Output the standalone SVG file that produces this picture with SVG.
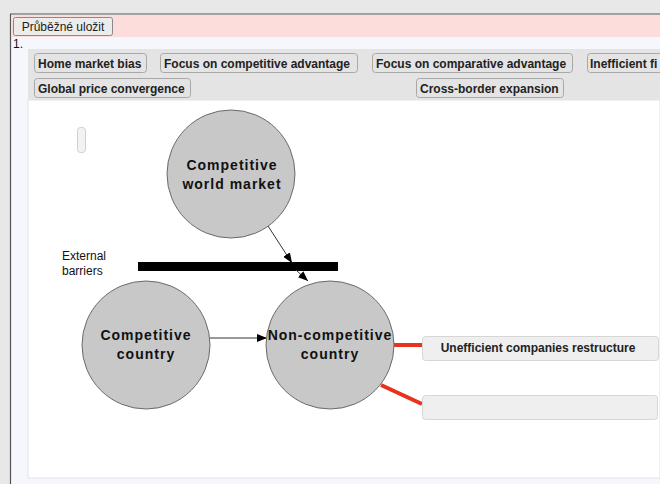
<svg xmlns="http://www.w3.org/2000/svg" width="660" height="484" viewBox="0 0 660 484">
<style>
.btn{fill:#e4e4e4;stroke:#a8a8a8;stroke-width:1}
.btxt{font-family:"Liberation Sans",Arial,sans-serif;font-size:12px;font-weight:bold;fill:#222}
.node{fill:#c8c8c8;stroke:#6a6a6a;stroke-width:1}
.ntxt{font-family:"Liberation Sans",Arial,sans-serif;font-size:14px;font-weight:bold;fill:#111;letter-spacing:1px;text-anchor:middle}
.lbl{font-family:"Liberation Sans",Arial,sans-serif;font-size:12px;fill:#111}
.drop{fill:#efefef;stroke:#d6d6d6;stroke-width:1}
.red{stroke:#e8321e;stroke-width:4;fill:none}
.arr{stroke:#333;stroke-width:1;fill:none;marker-end:url(#ah)}
</style>
<defs>
<marker id="ah" viewBox="0 0 10 10" refX="10" refY="5" markerWidth="10" markerHeight="10" markerUnits="userSpaceOnUse" orient="auto">
<path d="M0,1 L10,5 L0,9 z" fill="#000"/>
</marker>
</defs>
<rect x="0" y="0" width="660" height="484" fill="#e8e8e8"/>
<rect x="10" y="14" width="660" height="480" fill="#f5f7fc"/>
<line x1="10" y1="14" x2="660" y2="14" stroke="#555" stroke-width="1.2"/>
<line x1="10.5" y1="14" x2="10.5" y2="484" stroke="#555" stroke-width="1.2"/>
<rect x="11" y="15" width="649" height="22" fill="#fddcdc"/>
<g id="save-button">
<rect x="13.5" y="17.5" width="99" height="18" rx="2" fill="#ececec" stroke="#8a8a8a"/>
<text x="63" y="31" text-anchor="middle" font-family="'Liberation Sans',Arial,sans-serif" font-size="12" fill="#222">Průběžné uložit</text>
</g>
<text x="13" y="48" class="lbl">1.</text>
<rect x="28" y="49" width="632" height="51" fill="#e4e4e4"/>
<rect x="28" y="100" width="632" height="378" fill="#ffffff" stroke="#e0e3ea" stroke-width="1"/>
<g id="palette">
<g id="opt-home"><rect class="btn" x="34.5" y="53.5" width="112" height="19" rx="3"/><text class="btxt" x="38" y="67.5">Home market bias</text></g>
<g id="opt-competitive"><rect class="btn" x="160.5" y="53.5" width="197" height="19" rx="3"/><text class="btxt" x="164" y="67.5">Focus on competitive advantage</text></g>
<g id="opt-comparative"><rect class="btn" x="372.5" y="53.5" width="200" height="19" rx="3"/><text class="btxt" x="376" y="67.5">Focus on comparative advantage</text></g>
<g id="opt-inefficient"><rect class="btn" x="587.5" y="53.5" width="120" height="19" rx="3"/><text class="btxt" x="590" y="67.5">Inefficient fi</text></g>
<g id="opt-global"><rect class="btn" x="34.5" y="78.5" width="156" height="19" rx="3"/><text class="btxt" x="38" y="92.5">Global price convergence</text></g>
<g id="opt-cross"><rect class="btn" x="416.5" y="78.5" width="147" height="19" rx="3"/><text class="btxt" x="420" y="92.5">Cross-border expansion</text></g>
</g>
<rect x="77.5" y="127.5" width="8" height="25" rx="3" fill="#f2f2f2" stroke="#d0d0d0"/>
<g id="barrier">
<rect x="138" y="262" width="200" height="9" fill="#000"/>
<text class="lbl" x="62" y="260">External</text>
<text class="lbl" x="62" y="275">barriers</text>
</g>
<g id="connectors">
<line class="arr" x1="268" y1="226" x2="292" y2="263"/>
<line class="arr" x1="296" y1="270" x2="308" y2="281"/>
<line class="arr" x1="210" y1="338" x2="267" y2="338"/>
<line class="red" x1="392" y1="345" x2="422" y2="345"/>
<line class="red" x1="381" y1="385" x2="422" y2="404"/>
</g>
<g id="node-world">
<circle class="node" cx="231" cy="174" r="64"/>
<text class="ntxt" x="232" y="170">Competitive</text>
<text class="ntxt" x="232" y="189">world market</text>
</g>
<g id="node-competitive">
<circle class="node" cx="146" cy="345" r="64"/>
<text class="ntxt" x="146" y="340">Competitive</text>
<text class="ntxt" x="146" y="359">country</text>
</g>
<g id="node-noncompetitive">
<circle class="node" cx="330" cy="345" r="64"/>
<text class="ntxt" x="330" y="340">Non-competitive</text>
<text class="ntxt" x="330" y="359">country</text>
</g>
<g id="drop-1">
<rect class="drop" x="422.5" y="336.5" width="236" height="24" rx="3"/>
<text class="btxt" x="538" y="352" text-anchor="middle" fill="#333">Unefficient companies restructure</text>
</g>
<g id="drop-2">
<rect class="drop" x="422.5" y="395.5" width="235" height="24" rx="3"/>
</g>
</svg>
